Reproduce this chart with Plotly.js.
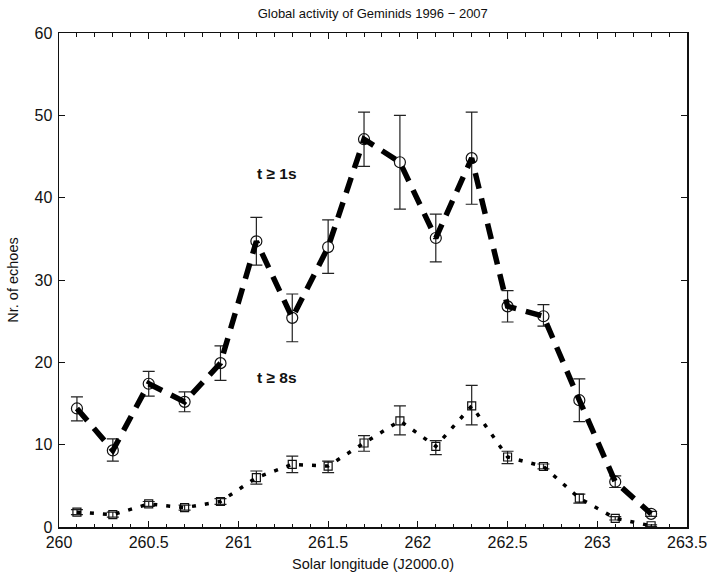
<!DOCTYPE html>
<html>
<head>
<meta charset="utf-8">
<script src="https://cdn.plot.ly/plotly-3.0.1.min.js"></script>
<style>html,body{margin:0;padding:0;background:#fff;}#chart{width:710px;height:572px;}</style>
</head>
<body>
<div id="chart"></div>
<script>
const solarLongitude = [260.1,260.3,260.5,260.7,260.9,261.1,261.3,261.5,261.7,261.9,262.1,262.3,262.5,262.7,262.9,263.1,263.3];
const echoes1s = [14.4,9.3,17.4,15.2,19.9,34.7,25.4,34.0,47.1,44.3,35.1,44.8,26.8,25.6,15.4,5.5,1.6];
const err1sUp = [1.4,1.4,1.5,1.2,2.1,2.9,2.9,3.3,3.3,5.7,2.9,5.6,1.9,1.4,2.6,0.7,0.3];
const err1sDown = [1.5,1.3,1.5,1.2,2.1,2.9,2.9,3.2,3.3,5.7,2.9,5.6,1.9,1.2,2.6,0.7,0.3];
const echoes8s = [1.8,1.5,2.8,2.35,3.1,6.0,7.6,7.4,10.2,12.9,9.8,14.7,8.5,7.35,3.5,1.05,0.15];
const err8sUp = [0.3,0.3,0.3,0.3,0.35,0.8,1.0,0.6,0.9,1.8,0.7,2.5,0.7,0.3,0.5,0.2,0.1];
const err8sDown = [0.3,0.3,0.3,0.3,0.35,0.8,1.0,0.8,1.0,1.7,1.0,2.3,0.8,0.3,0.6,0.2,0.1];
const xTicks = [260,260.5,261,261.5,262,262.5,263,263.5];
const xTickLabels = ['260','260.5','261','261.5','262','262.5','263','263.5'];
const yTicks = [0,10,20,30,40,50,60];

const errStyle = {type:'data', color:'#222', thickness:1.2, width:6};
const traces = [
  {x:solarLongitude, y:echoes1s, type:'scatter', mode:'markers',
   marker:{symbol:'circle-open', size:11, color:'#111', line:{width:1.2}},
   error_y:Object.assign({symmetric:false, array:err1sUp, arrayminus:err1sDown}, errStyle),
   showlegend:false, hoverinfo:'skip'},
  {x:solarLongitude, y:echoes8s, type:'scatter', mode:'markers',
   marker:{symbol:'square-open', size:8, color:'#111', line:{width:1.2}},
   error_y:Object.assign({symmetric:false, array:err8sUp, arrayminus:err8sDown}, errStyle),
   showlegend:false, hoverinfo:'skip'},
  {x:solarLongitude, y:echoes1s, type:'scatter', mode:'lines',
   line:{color:'#000', width:5.5, dash:'16px,10px'}, showlegend:false, hoverinfo:'skip'},
  {x:solarLongitude, y:echoes8s, type:'scatter', mode:'lines',
   line:{color:'#000', width:3.5, dash:'4px,9px'}, showlegend:false, hoverinfo:'skip'}
];

const layout = {
  width:710, height:572,
  margin:{l:59, r:23, t:33, b:45},
  paper_bgcolor:'#fff', plot_bgcolor:'#fff',
  font:{family:'Liberation Sans, Arial, sans-serif', color:'#111', size:14},
  title:{text:'Global activity of Geminids 1996 \u2212 2007', x:0.525, xanchor:'center', y:0.985, yanchor:'top', font:{size:13}},
  xaxis:{range:[260,263.5], tickvals:xTicks, ticktext:xTickLabels, ticks:'inside', ticklen:6, tickwidth:1,
         tickcolor:'#111', showline:true, linecolor:'#111', linewidth:1.5, mirror:'ticks', showgrid:false, zeroline:false,
         minor:{dtick:0.1, tick0:260, ticks:'inside', ticklen:3.5, tickcolor:'#111', showgrid:false},
         tickfont:{size:16}, title:{text:'Solar longitude (J2000.0)', font:{size:14.5}, standoff:10}},
  yaxis:{range:[0,60], tickvals:yTicks, ticks:'inside', ticklen:6, tickwidth:1, tickcolor:'#111',
         showline:true, linecolor:'#111', linewidth:1.5, mirror:'ticks', showgrid:false, zeroline:false,
         ticklabelstandoff:2,
         tickfont:{size:16}, title:{text:'Nr. of echoes', font:{size:14.5}, standoff:12}},
  annotations:[
    {x:261.215, y:42.9, xref:'x', yref:'y', text:'<b>t \u2265 1s</b>', showarrow:false, font:{size:15.5, color:'#111'}},
    {x:261.215, y:18.1, xref:'x', yref:'y', text:'<b>t \u2265 8s</b>', showarrow:false, font:{size:15.5, color:'#111'}}
  ]
};
Plotly.newPlot('chart', traces, layout, {displayModeBar:false, staticPlot:true});
</script>
</body>
</html>
